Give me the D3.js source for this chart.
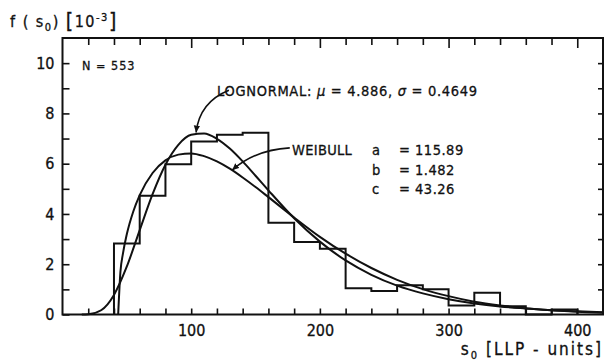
<!DOCTYPE html>
<html>
<head>
<meta charset="utf-8">
<script src="https://cdn.jsdelivr.net/npm/d3@7"></script>
<style>
  html, body { margin: 0; padding: 0; background: #fff; }
  svg { display: block; }
  text { font-family: "DejaVu Sans Condensed", "DejaVu Sans", sans-serif; fill: #111; stroke: #111; stroke-width: 0.3; }
</style>
</head>
<body>
<svg id="chart" width="605" height="361"></svg>
<script>
// ---- data ----
const binStarts = [40, 60, 80, 100, 120, 140, 160, 180, 200, 220, 240, 260, 280, 300, 320, 340, 360, 380];
const binWidth = 20;
const binHeights = [2.82, 4.72, 5.98, 6.88, 7.15, 7.23, 3.65, 2.88, 2.62, 1.04, 0.93, 1.16, 1.0, 0.36, 0.87, 0.33, 0, 0.2];

const lognormalX = [15, 20, 30, 40, 50, 60, 70, 80, 90, 100, 110, 120, 130, 140, 150, 160, 180, 200, 220, 240, 260, 280, 300, 320, 340, 360, 380, 400, 420];
const lognormalY = [0.0, 0.01, 0.17, 0.78, 1.91, 3.36, 4.79, 5.96, 6.75, 7.15, 7.20, 6.99, 6.60, 6.09, 5.52, 4.94, 3.83, 2.90, 2.15, 1.58, 1.15, 0.84, 0.61, 0.44, 0.32, 0.24, 0.17, 0.13, 0.09];

const weibullX = [43.26, 45, 47, 50, 55, 60, 70, 80, 90, 100, 110, 120, 130, 140, 150, 160, 180, 200, 220, 240, 260, 280, 300, 320, 340, 360, 380, 400, 420];
const weibullY = [0.0, 1.69, 2.43, 3.20, 4.10, 4.75, 5.63, 6.13, 6.36, 6.41, 6.30, 6.09, 5.80, 5.45, 5.07, 4.67, 3.86, 3.09, 2.42, 1.85, 1.38, 1.01, 0.73, 0.51, 0.36, 0.25, 0.17, 0.11, 0.07];

const yTickValues = [0, 1, 2, 3, 4, 5, 6, 7, 8, 9, 10, 11];
const xTickValues = [20, 40, 60, 80, 100, 120, 140, 160, 180, 200, 220, 240, 260, 280, 300, 320, 340, 360, 380, 400];
const xLabelValues = [100, 200, 300, 400];
const yLabelValues = [0, 2, 4, 6, 8, 10];

// leader-line anchors (data units): start, control, end
const lognormalLeader = [[129.3, 8.92], [106.5, 8.45], [103.8, 7.24]];
const weibullLeader = [[176.6, 6.63], [149.5, 6.55], [131.8, 5.74]];

// ---- drawing ----
const svg = d3.select("#chart");
const pL = 62.5, pR = 603, pT = 38, pB = 314.5;

const x = d3.scaleLinear().domain([0, 420]).range([pL, pR]);
const y = d3.scaleLinear().domain([0, 11]).range([pB, pT]);

const ink = "#111";
const fontStack = '"DejaVu Sans Condensed", "DejaVu Sans", sans-serif';

// frame
svg.append("rect")
  .attr("x", pL).attr("y", pT)
  .attr("width", pR - pL).attr("height", pB - pT)
  .attr("fill", "none").attr("stroke", ink).attr("stroke-width", 2);

// left axis (ticks inward)
const leftAxis = d3.axisLeft(y).tickValues(yTickValues.filter(v => v <= 10))
  .tickSize(-7).tickPadding(8)
  .tickFormat(d => yLabelValues.includes(d) ? d : "");
const gL = svg.append("g").attr("transform", `translate(${pL},0)`).call(leftAxis);
gL.select(".domain").remove();
gL.selectAll("line").attr("stroke", ink).attr("stroke-width", 1.6);
gL.selectAll("text").attr("font-size", 16).attr("fill", ink).attr("font-family", null)
  .style("font-family", fontStack);

// right axis (ticks inward)
const rightAxis = d3.axisRight(y).tickValues(yTickValues.filter(v => v > 0 && v <= 10))
  .tickSize(-5).tickFormat("");
const gR = svg.append("g").attr("transform", `translate(${pR},0)`).call(rightAxis);
gR.select(".domain").remove();
gR.selectAll("line").attr("stroke", ink).attr("stroke-width", 1.6);

// bottom axis (ticks inward)
const bottomAxis = d3.axisBottom(x).tickValues(xTickValues)
  .tickSize(-6).tickPadding(10)
  .tickFormat(d => xLabelValues.includes(d) ? d : "");
const gB = svg.append("g").attr("transform", `translate(0,${pB})`).call(bottomAxis);
gB.select(".domain").remove();
gB.selectAll("line").attr("stroke", ink).attr("stroke-width", 1.6);
gB.selectAll("text").attr("font-size", 16).attr("fill", ink)
  .style("font-family", fontStack);

// top axis (ticks inward)
const topAxis = d3.axisTop(x).tickValues(xTickValues).tickFormat("")
  .tickSize(-7);
const gT = svg.append("g").attr("transform", `translate(0,${pT})`).call(topAxis);
gT.select(".domain").remove();
gT.selectAll("line").attr("stroke", ink).attr("stroke-width", 1.6)
  .attr("y2", d => xLabelValues.includes(d) ? 10 : 7);

// histogram outline
const histPts = [[binStarts[0], 0]];
binStarts.forEach((s, i) => {
  histPts.push([s, binHeights[i]]);
  histPts.push([s + binWidth, binHeights[i]]);
});
histPts.push([binStarts[binStarts.length - 1] + binWidth, 0]);
const lin = d3.line().x(d => x(d[0])).y(d => y(d[1]));
svg.append("path").attr("d", lin(histPts))
  .attr("fill", "none").attr("stroke", ink).attr("stroke-width", 2).attr("stroke-linejoin", "miter");

// fitted curves
const smooth = d3.line().x(d => x(d[0])).y(d => y(d[1])).curve(d3.curveMonotoneX);
svg.append("path").attr("d", smooth(lognormalX.map((v, i) => [v, lognormalY[i]])))
  .attr("fill", "none").attr("stroke", ink).attr("stroke-width", 2);
svg.append("path").attr("d", smooth(weibullX.map((v, i) => [v, weibullY[i]])))
  .attr("fill", "none").attr("stroke", ink).attr("stroke-width", 2);

// arrow marker
svg.append("defs").append("marker")
  .attr("id", "arrow").attr("viewBox", "0 -5 10 10")
  .attr("refX", 10).attr("refY", 0)
  .attr("markerWidth", 7).attr("markerHeight", 7)
  .attr("markerUnits", "userSpaceOnUse")
  .attr("orient", "auto")
  .append("path").attr("d", "M0,-4.5L10,0L0,4.5Z").attr("fill", ink);

function leader(pts) {
  const p = pts.map(d => [x(d[0]), y(d[1])]);
  return `M${p[0][0]},${p[0][1]} Q${p[1][0]},${p[1][1]} ${p[2][0]},${p[2][1]}`;
}
svg.append("path").attr("d", leader(lognormalLeader))
  .attr("fill", "none").attr("stroke", ink).attr("stroke-width", 1.6).attr("marker-end", "url(#arrow)");
svg.append("path").attr("d", leader(weibullLeader))
  .attr("fill", "none").attr("stroke", ink).attr("stroke-width", 1.6).attr("marker-end", "url(#arrow)");

// y title: f (s0) [10^-3]
const yt = svg.append("text").attr("x", 10).attr("y", 27).attr("font-size", 16).attr("letter-spacing", 1.5);
yt.append("tspan").text("f ( s");
yt.append("tspan").attr("font-size", 11).attr("dy", 4).text("0");
yt.append("tspan").attr("dy", -4).text(") ");
yt.append("tspan").attr("font-size", 21).attr("dy", 1).text("[");
yt.append("tspan").attr("dy", -1).text("10");
yt.append("tspan").attr("font-size", 11).attr("dy", -6).text("-3");
yt.append("tspan").attr("font-size", 21).attr("dy", 7).text("]");

// N = 553
svg.append("text").attr("x", 82).attr("y", 70).attr("font-size", 12.5).attr("letter-spacing", 1).text("N = 553");

// LOGNORMAL label
const ln = svg.append("text").attr("x", 217).attr("y", 96).attr("font-size", 14.5).attr("letter-spacing", 0.7);
ln.append("tspan").text("LOGNORMAL: ");
ln.append("tspan").attr("font-style", "italic").text("μ");
ln.append("tspan").text(" = 4.886,  ");
ln.append("tspan").attr("font-style", "italic").text("σ");
ln.append("tspan").text(" = 0.4649");

// WEIBULL label and parameters
svg.append("text").attr("x", 292).attr("y", 155).attr("font-size", 14.5).attr("letter-spacing", 0.3).text("WEIBULL");
const params = [["a", "115.89"], ["b", "1.482"], ["c", "43.26"]];
params.forEach((p, i) => {
  const by = 155 + i * 19.5;
  svg.append("text").attr("x", 372).attr("y", by).attr("font-size", 14.5).text(p[0]);
  svg.append("text").attr("x", 399).attr("y", by).attr("font-size", 14.5).attr("letter-spacing", 0.5).text("= " + p[1]);
});

// x title: s0 [LLP - units]
const xt = svg.append("text").attr("x", 603).attr("y", 355).attr("text-anchor", "end")
  .attr("font-size", 17).attr("letter-spacing", 2);
xt.append("tspan").text("s");
xt.append("tspan").attr("font-size", 11).attr("dy", 4).text("0");
xt.append("tspan").attr("dy", -4).text(" [LLP - units]");
</script>
</body>
</html>
